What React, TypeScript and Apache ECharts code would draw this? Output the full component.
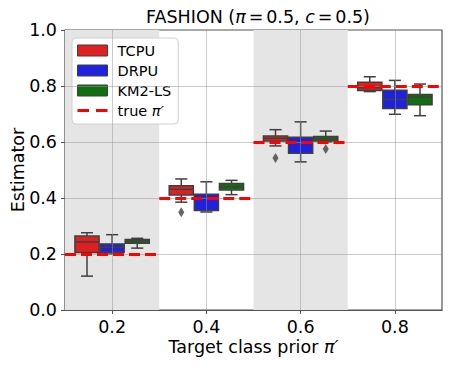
import React, { useEffect, useRef } from "react";
import * as echarts from "echarts";

// ---- data ----
const groups = [0.2, 0.4, 0.6, 0.8];
const methods = ["TCPU", "DRPU", "KM2-LS"];
const trueName = "true π′";
// each row: [lower whisker, q1, median, q3, upper whisker] for groups 0.2, 0.4, 0.6, 0.8
const tcpuStats = [
  [0.121, 0.205, 0.243, 0.264, 0.276],
  [0.385, 0.411, 0.431, 0.444, 0.468],
  [0.586, 0.604, 0.613, 0.621, 0.644],
  [0.780, 0.784, 0.794, 0.813, 0.833],
];
const drpuStats = [
  [0.200, 0.206, 0.224, 0.236, 0.269],
  [0.350, 0.355, 0.399, 0.413, 0.458],
  [0.529, 0.560, 0.595, 0.617, 0.672],
  [0.699, 0.720, 0.752, 0.785, 0.820],
];
const km2Stats = [
  [0.221, 0.238, 0.246, 0.252, 0.256],
  [0.412, 0.429, 0.440, 0.452, 0.463],
  [0.600, 0.604, 0.612, 0.620, 0.639],
  [0.694, 0.733, 0.760, 0.770, 0.807],
];
// outliers: [group, value]
const tcpuOutliers = [
  [0.4, 0.349],
  [0.6, 0.543],
];
const drpuOutliers: number[][] = [];
const km2Outliers = [[0.6, 0.575]];
const trueValues = [0.2, 0.4, 0.6, 0.8];
const shadedBands = [
  [0.1, 0.3],
  [0.5, 0.7],
];
const xTicks = [0.2, 0.4, 0.6, 0.8];
const yTicks = [0.2, 0.4, 0.6, 0.8];

// ---- styling ----
const colors = ["#df2020", "#2020df", "#107010"];
const offsets = [-0.0533, 0, 0.0533];
const BOX_W = 0.0533;
const EDGE = "#3f3f3f";
const FONT = "DejaVu Sans";

const statsList = [tcpuStats, drpuStats, km2Stats];
const outlierList = [tcpuOutliers, drpuOutliers, km2Outliers];

function renderBox(params: any, api: any) {
  const x = api.value(0);
  const lo = api.value(1);
  const q1 = api.value(2);
  const med = api.value(3);
  const q3 = api.value(4);
  const hi = api.value(5);
  const w = api.size([BOX_W, 0])[0] - 1;
  const cx = api.coord([x, med])[0];
  const Y = (v: number) => api.coord([x, v])[1];
  const color = api.visual("color");
  const ls = { stroke: EDGE, lineWidth: 1.5 };
  const cap = w / 2;
  return {
    type: "group",
    children: [
      { type: "line", shape: { x1: cx, y1: Y(q3), x2: cx, y2: Y(hi) }, style: ls },
      { type: "line", shape: { x1: cx, y1: Y(q1), x2: cx, y2: Y(lo) }, style: ls },
      { type: "line", shape: { x1: cx - cap / 2, y1: Y(hi), x2: cx + cap / 2, y2: Y(hi) }, style: ls },
      { type: "line", shape: { x1: cx - cap / 2, y1: Y(lo), x2: cx + cap / 2, y2: Y(lo) }, style: ls },
      {
        type: "rect",
        shape: { x: cx - w / 2, y: Y(q3), width: w, height: Y(q1) - Y(q3) },
        style: { fill: color, stroke: EDGE, lineWidth: 1.5 },
      },
      { type: "line", shape: { x1: cx - w / 2, y1: Y(med), x2: cx + w / 2, y2: Y(med) }, style: ls },
    ],
  };
}

export default function App() {
  const ref = useRef<HTMLDivElement>(null);
  useEffect(() => {
    const chart = echarts.init(ref.current!, null, { renderer: "svg" });
    const series: any[] = [];
    // shaded bands
    series.push({
      type: "line",
      name: "bands",
      data: [],
      z: 0,
      silent: true,
      markArea: {
        silent: true,
        itemStyle: { color: "#e5e5e5" },
        data: shadedBands.map((b) => [{ xAxis: b[0] }, { xAxis: b[1] }]),
      },
    });
    methods.forEach((m, mi) => {
      series.push({
        type: "custom",
        name: m,
        z: 2,
        itemStyle: { color: colors[mi] },
        renderItem: renderBox,
        encode: { x: 0, y: [1, 2, 3, 4, 5] },
        data: groups.map((g, gi) => [g + offsets[mi], ...statsList[mi][gi]]),
      });
      series.push({
        type: "scatter",
        name: m + " outliers",
        z: 5,
        symbol: "diamond",
        symbolSize: [6, 10],
        itemStyle: { color: EDGE },
        data: outlierList[mi].map((o) => [o[0] + offsets[mi], o[1]]),
      });
    });
    // grid lines on top (semi-transparent)
    series.push({
      type: "line",
      name: "grid",
      data: [],
      z: 3,
      silent: true,
      markLine: {
        silent: true,
        symbol: "none",
        label: { show: false },
        lineStyle: { color: "rgba(150,150,150,0.5)", width: 1, type: "solid" },
        data: [
          ...xTicks.map((v) => ({ xAxis: v })),
          ...yTicks.map((v) => ({ yAxis: v })),
        ],
      },
    });
    // true pi' dashed lines
    series.push({
      type: "line",
      name: trueName,
      data: [],
      z: 4,
      symbol: "none",
      itemStyle: { color: "#ff0000" },
      lineStyle: { color: "#ff0000", width: 3, type: [11, 5] },
      markLine: {
        silent: true,
        symbol: "none",
        label: { show: false },
        lineStyle: { color: "#ff0000", width: 3, type: [11, 5] },
        data: trueValues.map((v, i) => [
          { coord: [groups[i] - 0.1, v] },
          { coord: [groups[i] + 0.1, v] },
        ]),
      },
    });

    const rich = (size: number) => ({
      n: { fontFamily: FONT, fontSize: size, fontWeight: "normal", color: "#000" },
      i: { fontFamily: FONT, fontSize: size, fontWeight: "normal", fontStyle: "italic", color: "#000" },
    });

    chart.setOption({
      animation: false,
      textStyle: { fontFamily: FONT },
      title: {
        text: "{n|FASHION (}{i|π}{n|\u2006=\u20060.5, }{i|c}{n|\u2006=\u20060.5)}",
        left: 253,
        textAlign: "center",
        top: 3,
        textStyle: { fontWeight: "normal", rich: rich(17.5) },
      },
      legend: {
        left: 72,
        top: 38,
        orient: "vertical",
        backgroundColor: "#fff",
        borderColor: "#d0d0d0",
        borderWidth: 1,
        borderRadius: 4,
        padding: [5, 7, 6, 5],
        itemWidth: 30,
        itemHeight: 11,
        itemGap: 5,
        data: [
          ...methods.map((m, i) => ({
            name: m,
            icon: "rect",
            itemStyle: { color: colors[i], borderColor: EDGE, borderWidth: 1 },
          })),
          {
            name: trueName,
            icon: "path://M0,0H11.5V3H0ZM18.5,0H30V3H18.5Z",
            itemStyle: { color: "#ff0000", borderWidth: 0 },
          },
        ],
        formatter: (name: string) =>
          name === trueName ? "{n|true }{i|π′}" : "{n|" + name + "}",
        textStyle: {
          padding: [0, 0, 0, 5],
          rich: {
            n: { fontFamily: FONT, fontSize: 14.5, color: "#000", lineHeight: 15 },
            i: { fontFamily: FONT, fontSize: 14.5, fontStyle: "italic", color: "#000", lineHeight: 15 },
          },
        },
      },
      grid: {
        left: 65,
        right: 7,
        top: 30,
        bottom: 56,
        outerBoundsMode: "none",
        containLabel: false,
        show: true,
        borderColor: "#555",
        borderWidth: 1.2,
        backgroundColor: "#fff",
      },
      xAxis: {
        type: "value",
        min: 0.1,
        max: 0.9,
        name: "{n|Target class prior }{i|π′}",
        nameLocation: "middle",
        nameGap: 28,
        nameMoveOverlap: false,
        nameTextStyle: { verticalAlign: "top", rich: rich(17.5) },
        axisLine: { show: true, lineStyle: { color: "#555", width: 1.2 } },
        axisTick: { show: true, customValues: xTicks, length: 4, lineStyle: { color: "#555" } },
        axisLabel: {
          customValues: xTicks,
          margin: 8,
          fontSize: 17.5,
          fontFamily: FONT,
          color: "#000",
          formatter: (v: number) => v.toFixed(1),
        },
        splitLine: { show: false },
      },
      yAxis: {
        type: "value",
        min: 0,
        max: 1,
        interval: 0.2,
        name: "Estimator",
        nameLocation: "middle",
        nameGap: 38,
        nameMoveOverlap: false,
        nameTextStyle: { fontFamily: FONT, fontSize: 17.5, color: "#000" },
        axisLine: { show: true, lineStyle: { color: "#555", width: 1.2 } },
        axisTick: { show: true, length: 4, lineStyle: { color: "#555" } },
        axisLabel: {
          margin: 8,
          fontSize: 17.5,
          fontFamily: FONT,
          color: "#000",
          formatter: (v: number) => v.toFixed(1),
        },
        splitLine: { show: false },
      },
      series,
    });
    return () => chart.dispose();
  }, []);
  return <div ref={ref} style={{ width: 449, height: 366, position: "absolute", left: 0, top: 0 }} />;
}
